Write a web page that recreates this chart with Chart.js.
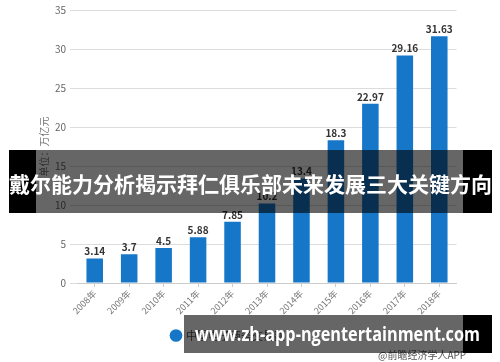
<!DOCTYPE html>
<html>
<head>
<meta charset="utf-8">
<script src="https://cdn.jsdelivr.net/npm/chart.js@4"></script>
<style>
  html, body { margin: 0; padding: 0; background: #fff; }
  #wrap { position: relative; width: 500px; height: 362px; overflow: hidden; }
  #c { position: absolute; left: 0; top: 0; }
  .blk { position: absolute; background: #000; }
  .dim { position: absolute; background: rgba(0,0,0,0.6); }
  #title {
    position: absolute; left: 9px; top: 150px; width: 483px; height: 63px;
    color: #fff; font: bold 21px "Noto Sans CJK SC", sans-serif;
    text-align: center; line-height: 66px; white-space: nowrap;
  }
  #url {
    position: absolute; left: 195px; top: 315px; height: 38px;
    color: #fff; font: bold 19px "Open Sans", sans-serif;
    line-height: 38px; white-space: nowrap; transform-origin: 0 50%;
  }
  #src {
    position: absolute; left: 378px; top: 347px;
    color: #555; font: 10px "Noto Sans CJK SC", sans-serif; white-space: nowrap;
  }
</style>
</head>
<body>
<div id="wrap">
  <canvas id="c" width="500" height="362"></canvas>
  <div class="blk" style="left:9px;top:150px;width:27px;height:63px"></div>
  <div class="dim" style="left:36px;top:150px;width:427px;height:63px"></div>
  <div class="blk" style="left:463px;top:150px;width:29px;height:63px"></div>
  <div id="title">戴尔能力分析揭示拜仁俱乐部未来发展三大关键方向</div>
  <div id="src">@前瞻经济学人APP</div>
  <div class="dim" style="left:184px;top:315px;width:279px;height:38px"></div>
  <div class="blk" style="left:463px;top:315px;width:29px;height:38px"></div>
  <div id="url">www.zh-app-ngentertainment.com</div>
</div>
<script>
// 年份 / 交易额 (万亿元)
const years = ['2008年', '2009年', '2010年', '2011年', '2012年', '2013年', '2014年', '2015年', '2016年', '2017年', '2018年'];
const values = [3.14, 3.7, 4.5, 5.88, 7.85, 10.2, 13.4, 18.3, 22.97, 29.16, 31.63];
const yTicks = [0, 5, 10, 15, 20, 25, 30, 35];
const seriesName = '中国电子商务交易额';
const yTitle = '单位：万亿元';

const cjk = '"Noto Sans CJK SC", sans-serif';

// 网址横幅宽度对齐 (约 285px)
const url = document.getElementById('url');
url.style.transform = 'scaleX(' + (285 / url.scrollWidth) + ')';

// 막대 위에 값 표시
const valueLabels = {
  id: 'valueLabels',
  afterDatasetsDraw(chart) {
    const ctx = chart.ctx;
    const meta = chart.getDatasetMeta(0);
    ctx.save();
    ctx.font = 'bold 10px ' + cjk;
    ctx.fillStyle = '#333';
    ctx.textAlign = 'center';
    ctx.textBaseline = 'bottom';
    meta.data.forEach((bar, i) => {
      ctx.fillText(String(values[i]), bar.x, bar.y - 2);
    });
    ctx.restore();
  }
};

new Chart(document.getElementById('c'), {
  type: 'bar',
  data: {
    labels: years,
    datasets: [{
      label: seriesName,
      data: values,
      backgroundColor: '#1677c9',
      barPercentage: 0.48,
      categoryPercentage: 1
    }]
  },
  options: {
    responsive: false,
    animation: false,
    layout: { padding: { top: 9, right: 43.5, bottom: 11, left: 0 } },
    plugins: {
      legend: {
        position: 'bottom',
        labels: {
          usePointStyle: true,
          pointStyle: 'circle',
          boxWidth: 9,
          boxHeight: 9,
          color: '#555',
          font: { size: 11, family: cjk },
          padding: 10
        }
      },
      tooltip: { enabled: false }
    },
    scales: {
      y: {
        min: 0,
        max: 35,
        afterBuildTicks: s => { s.ticks = yTicks.map(v => ({ value: v })); },
        afterFit: s => { s.width = 77.5; },
        ticks: { color: '#666', font: { size: 10, family: cjk }, padding: 4 },
        grid: { color: '#dcdcdc', tickLength: 7.5, tickColor: '#dcdcdc' },
        border: { display: false },
        title: {
          display: true,
          text: yTitle,
          color: '#777',
          font: { size: 10, family: cjk },
          padding: { top: 38, bottom: 0 }
        }
      },
      x: {
        afterFit: s => { s.height = 37; },
        ticks: {
          color: '#777',
          font: { size: 9, family: cjk },
          maxRotation: 45,
          minRotation: 45,
          padding: 1,
          autoSkip: false
        },
        grid: { display: true, drawOnChartArea: false, offset: false, tickLength: 4, color: '#ccc' },
        border: { color: '#ccc' }
      }
    }
  },
  plugins: [valueLabels]
});
</script>
</body>
</html>
